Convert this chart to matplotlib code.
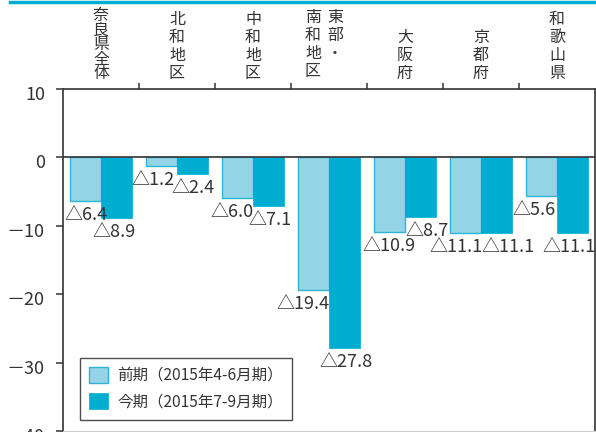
import matplotlib
matplotlib.use("Agg")
import matplotlib.pyplot as plt
import matplotlib.transforms as mtransforms
import numpy as np
from matplotlib.lines import Line2D
from matplotlib.ticker import FixedLocator, FuncFormatter

# 地域ごとの表示（縦書き、列ごと）
label_columns = [
    ["奈良県全体"],
    ["北和地区"],
    ["中和地区"],
    ["南和地区", "東部・"],
    ["大阪府"],
    ["京都府"],
    ["和歌山県"],
]
prev_values = [-6.4, -1.2, -6.0, -19.4, -10.9, -11.1, -5.6]
curr_values = [-8.9, -2.4, -7.1, -27.8, -8.7, -11.1, -11.1]
series_names = ["前期（2015年4-6月期）", "今期（2015年7-9月期）"]
y_ticks = [10, 0, -10, -20, -30, -40]

LIGHT = "#93d5e6"
LIGHT_EDGE = "#2db4d5"
DARK = "#00acd0"
TEXT = "#333333"
FONT = ["Noto Sans CJK JP", "DejaVu Sans"]

# ラベル位置の微調整 (px)
prev_nudge = [1, -8, -5, -10, 0, -9, -7]
curr_nudge = [-3, 0, 1, 1, 6, 11, -4]
col_shift = [-16, 6]  # 2列ラベルの列位置 (px)

plt.rcParams["font.family"] = FONT

fig = plt.figure(figsize=(5.96, 4.32), dpi=100)
ax = fig.add_axes([63 / 596, 1 / 432, 532 / 596, 342 / 432])

x = np.arange(len(prev_values))
w = 0.41
ax.bar(x - w / 2, prev_values, w, color=LIGHT, edgecolor=LIGHT_EDGE, linewidth=1.0,
       label=series_names[0], zorder=2)
ax.bar(x + w / 2, curr_values, w, color=DARK, edgecolor=DARK, linewidth=0.5,
       label=series_names[1], zorder=2)

px = 0.72  # points per pixel
for vals, off, nudge in ((prev_values, -w / 2, prev_nudge), (curr_values, w / 2, curr_nudge)):
    for i, v in enumerate(vals):
        ax.annotate("△" + f"{abs(v):.1f}", (x[i] + off, v),
                    xytext=(nudge[i] * px, -5 * px), textcoords="offset points",
                    ha="center", va="top", fontsize=13, color=TEXT, zorder=3)

# 縦書きのカテゴリ名
for i, cols in enumerate(label_columns):
    n = len(cols)
    for j, col in enumerate(cols):
        spacing = 0.8 if len(col) >= 5 else 1.08
        if n > 1:
            ax.annotate("\n".join(col), (i, 1.0), xycoords=("data", "axes fraction"),
                        xytext=(col_shift[j] * px, 80 * px), textcoords="offset points",
                        ha="center", va="top", fontsize=11.5, color=TEXT,
                        linespacing=spacing)
        else:
            ax.annotate("\n".join(col), (i, 1.0), xycoords=("data", "axes fraction"),
                        xytext=(0, 7 * px), textcoords="offset points",
                        ha="center", va="bottom", fontsize=11.5, color=TEXT,
                        linespacing=spacing)

ax.set_xlim(-0.5, len(prev_values) - 0.5)
ax.set_ylim(-40, 10)
ax.axhline(0, color=TEXT, linewidth=1.2, zorder=4)

ax.set_yticks(y_ticks)
ax.yaxis.set_major_formatter(FuncFormatter(lambda v, p: f"{int(v)}" if v >= 0 else f"－{int(-v)}"))
ax.tick_params(axis="y", direction="out", length=5, width=1.1, color=TEXT, pad=8,
               labelsize=13, labelcolor=TEXT)
shift = mtransforms.ScaledTranslation(0, -4 / 100, fig.dpi_scale_trans)
for t in ax.get_yticklabels():
    t.set_transform(t.get_transform() + shift)

ax.xaxis.set_major_locator(FixedLocator(np.arange(0.5, len(prev_values) - 1, 1.0)))
ax.xaxis.set_ticks_position("top")
ax.tick_params(axis="x", direction="out", length=4, width=1.1, color=TEXT, labeltop=False,
               labelbottom=False)

for side in ("left", "top", "right"):
    ax.spines[side].set_color(TEXT)
    ax.spines[side].set_linewidth(1.2)
ax.spines["bottom"].set_color("#cccccc")

leg = ax.legend(loc="lower left", bbox_to_anchor=(17 / 532, 11 / 342),
                prop={"size": 11.2}, frameon=True, fancybox=False,
                edgecolor="#222222", handlelength=1.2, handleheight=1.2,
                borderpad=0.6, labelspacing=0.6, handletextpad=0.6, borderaxespad=0)
leg.get_frame().set_linewidth(1.0)
for t in leg.get_texts():
    t.set_color(TEXT)

# 上部の帯
fig.add_artist(Line2D([10 / 596, 1.0], [1 - 1.5 / 432, 1 - 1.5 / 432],
                      color=DARK, linewidth=2.5, transform=fig.transFigure))

fig.savefig("out.png", dpi=100)
